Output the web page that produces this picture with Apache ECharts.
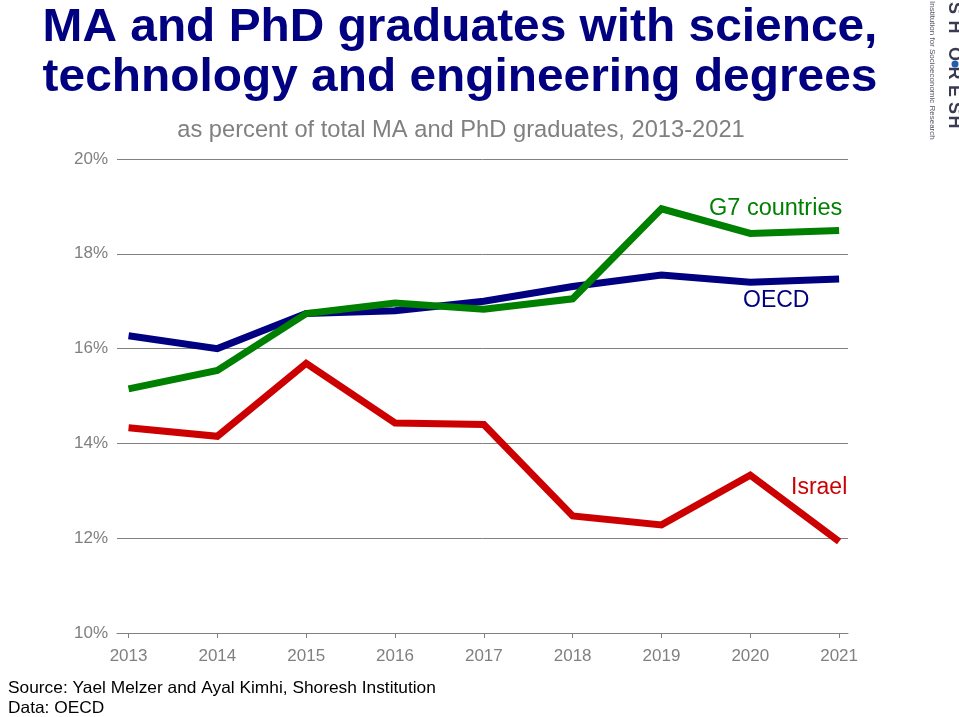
<!DOCTYPE html>
<html>
<head>
<meta charset="utf-8">
<script src="https://cdn.jsdelivr.net/npm/echarts@6/dist/echarts.min.js"></script>
<style>
html,body{margin:0;padding:0;background:#fff;}
#chart{width:959px;height:717px;}
</style>
</head>
<body>
<div id="chart"></div>
<script>
const years = [2013, 2014, 2015, 2016, 2017, 2018, 2019, 2020, 2021];
const oecd = [16.27, 16.0, 16.74, 16.8, 17.0, 17.31, 17.55, 17.4, 17.47];
const g7 = [15.15, 15.54, 16.74, 16.96, 16.83, 17.05, 18.95, 18.43, 18.49];
const israel = [14.33, 14.15, 15.69, 14.43, 14.40, 12.47, 12.28, 13.33, 11.93];
const yTicks = [10, 12, 14, 16, 18, 20];

const FONT = '"Liberation Sans", Arial, sans-serif';
const pairs = arr => years.map((y, i) => [y, arr[i]]);

const logoLetters = ['S', 'H', 'O', 'R', 'E', 'S', 'H'];
const logoY = [8, 27, 54, 73, 91, 108, 122];
const logoGraphics = logoLetters.map((ch, i) => ({
  type: 'text', x: 954, y: logoY[i], rotation: -Math.PI / 2,
  style: {text: ch, fill: '#3a3a52', font: 'bold 18px ' + FONT, textAlign: 'center', textVerticalAlign: 'middle'}
}));

const chart = echarts.init(document.getElementById('chart'), null, {renderer: 'canvas'});
chart.setOption({
  backgroundColor: '#ffffff',
  animation: false,
  grid: {left: 117, right: 111, top: 159, bottom: 84, containLabel: false},
  xAxis: {
    type: 'value',
    min: 2012.87,
    max: 2021.1,
    axisLine: {show: true, lineStyle: {color: '#808080', width: 1}},
    axisTick: {show: true, length: 5, customValues: years, lineStyle: {color: '#808080'}},
    axisLabel: {customValues: years, formatter: v => String(v), color: '#808080', fontSize: 17, fontFamily: FONT, margin: 15},
    splitLine: {show: false}
  },
  yAxis: {
    type: 'value',
    min: 10, max: 20, interval: 2,
    axisLine: {show: false},
    axisTick: {show: false},
    axisLabel: {formatter: '{value}%', color: '#808080', fontSize: 17, fontFamily: FONT, margin: 9},
    splitLine: {show: true, lineStyle: {color: '#808080', width: 1}}
  },
  series: [
    {name: 'OECD', type: 'line', data: pairs(oecd), showSymbol: false, symbol: 'none',
     lineStyle: {color: '#000080', width: 7, join: 'miter'}, itemStyle: {color: '#000080'}},
    {name: 'G7 countries', type: 'line', data: pairs(g7), showSymbol: false, symbol: 'none',
     lineStyle: {color: '#008000', width: 7, join: 'miter'}, itemStyle: {color: '#008000'}},
    {name: 'Israel', type: 'line', data: pairs(israel), showSymbol: false, symbol: 'none',
     lineStyle: {color: '#CC0000', width: 7, join: 'miter'}, itemStyle: {color: '#CC0000'}}
  ],
  graphic: [
    {type: 'text', x: 460, y: 28, scaleX: 1.018, style: {text: 'MA and PhD graduates with science,', fill: '#000080', font: 'bold 47px ' + FONT, textAlign: 'center', textVerticalAlign: 'middle'}},
    {type: 'text', x: 460, y: 78, scaleX: 1.018, style: {text: 'technology and engineering degrees', fill: '#000080', font: 'bold 47px ' + FONT, textAlign: 'center', textVerticalAlign: 'middle'}},
    {type: 'text', x: 461, y: 130, style: {text: 'as percent of total MA and PhD graduates, 2013-2021', fill: '#808080', font: '23.7px ' + FONT, textAlign: 'center', textVerticalAlign: 'middle'}},
    {type: 'text', x: 709, y: 209, style: {text: 'G7 countries', fill: '#008000', font: '23.5px ' + FONT, textAlign: 'left', textVerticalAlign: 'middle'}},
    {type: 'text', x: 743, y: 301, style: {text: 'OECD', fill: '#000080', font: '23px ' + FONT, textAlign: 'left', textVerticalAlign: 'middle'}},
    {type: 'text', x: 791, y: 488, style: {text: 'Israel', fill: '#CC0000', font: '23px ' + FONT, textAlign: 'left', textVerticalAlign: 'middle'}},
    {type: 'text', x: 8, y: 688, scaleX: 1.05, style: {text: 'Source: Yael Melzer and Ayal Kimhi, Shoresh Institution', fill: '#000000', font: '16.5px ' + FONT, textAlign: 'left', textVerticalAlign: 'middle'}},
    {type: 'text', x: 8, y: 708, scaleX: 1.05, style: {text: 'Data: OECD', fill: '#000000', font: '16.5px ' + FONT, textAlign: 'left', textVerticalAlign: 'middle'}},
    ...logoGraphics,
    {type: 'text', x: 932.5, y: 1, rotation: -Math.PI / 2, style: {text: 'Institution for Socioeconomic Research', fill: '#555566', font: '8px ' + FONT, textAlign: 'left', textVerticalAlign: 'middle'}},
    {type: 'circle', shape: {cx: 955, cy: 64, r: 3.5}, style: {fill: '#1f5fb0'}}
  ]
});
</script>
</body>
</html>
